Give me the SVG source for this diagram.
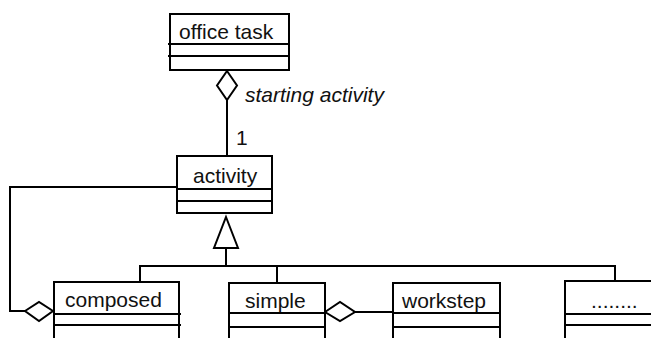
<svg xmlns="http://www.w3.org/2000/svg" width="651" height="338" viewBox="0 0 651 338">
  <style>
    .box { fill: #fff; stroke: #000; stroke-width: 2; }
    .sep { stroke: #000; stroke-width: 2; }
    .wire { fill: none; stroke: #000; stroke-width: 2; }
    .dia { fill: #fff; stroke: #000; stroke-width: 2; }
    text { font-family: "Liberation Sans", Arial, sans-serif; font-size: 21px; fill: #111; }
    .it { font-style: italic; }
  </style>
  <rect width="651" height="338" fill="#fff"/>

  <g id="connectors">
    <!-- composition: office task -> activity -->
    <line class="wire" x1="227" y1="100" x2="227" y2="156"/>
    <polygon class="dia" points="227,71 237,85.5 227,100 217,85.5"/>
    <text class="it" x="245" y="102">starting activity</text>
    <text x="236" y="145">1</text>

    <!-- composed aggregates activity -->
    <polyline class="wire" points="177,187 10,187 10,311 25,311"/>
    <polygon class="dia" points="25,311 39,302 53,311 39,321"/>

    <!-- generalization -->
    <polygon class="dia" points="226,217 238,248 214,248"/>
    <polyline class="wire" points="226,248 226,266"/>
    <polyline class="wire" points="140,282 140,266 615,266 615,281"/>
    <line class="wire" x1="277" y1="266" x2="277" y2="283"/>

    <!-- simple aggregates workstep -->
    <polygon class="dia" points="325,312 340,302 355,312 340,321"/>
    <line class="wire" x1="355" y1="312" x2="393" y2="312"/>
  </g>

  <g id="office-task">
    <rect class="box" x="170" y="14" width="119" height="56"/>
    <line class="sep" x1="168" y1="44" x2="290" y2="44"/>
    <line class="sep" x1="168" y1="56" x2="290" y2="56"/>
    <text x="179" y="39">office task</text>
  </g>

  <g id="activity">
    <rect class="box" x="177" y="156" width="95" height="57"/>
    <line class="sep" x1="176" y1="189" x2="273" y2="189"/>
    <line class="sep" x1="176" y1="201" x2="273" y2="201"/>
    <text x="193" y="183">activity</text>
  </g>

  <g id="composed">
    <rect class="box" x="54" y="282" width="125" height="70"/>
    <line class="sep" x1="53" y1="314" x2="181" y2="314"/>
    <line class="sep" x1="53" y1="325" x2="181" y2="325"/>
    <text x="65" y="307">composed</text>
  </g>

  <g id="simple">
    <rect class="box" x="229" y="283" width="96" height="70"/>
    <line class="sep" x1="228" y1="313" x2="326" y2="313"/>
    <line class="sep" x1="228" y1="327" x2="326" y2="327"/>
    <text x="245" y="308">simple</text>
  </g>

  <g id="workstep">
    <rect class="box" x="393" y="283" width="107" height="70"/>
    <line class="sep" x1="392" y1="313" x2="501" y2="313"/>
    <line class="sep" x1="392" y1="327" x2="501" y2="327"/>
    <text x="402" y="308">workstep</text>
  </g>

  <g id="more">
    <rect class="box" x="565" y="281" width="100" height="70"/>
    <line class="sep" x1="564" y1="314" x2="651" y2="314"/>
    <line class="sep" x1="564" y1="325" x2="651" y2="325"/>
    <text x="591" y="308">........</text>
  </g>
</svg>
